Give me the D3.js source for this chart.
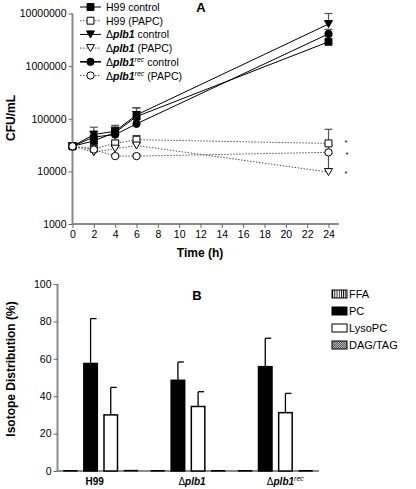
<!DOCTYPE html>
<html><head><meta charset="utf-8">
<script src="https://cdn.jsdelivr.net/npm/d3@7"></script>
<style>
body{margin:0;background:#fff;}
text{font-family:"Liberation Sans",Arial,Helvetica,sans-serif;}
</style></head>
<body><svg id="c" width="416" height="489"></svg>
<script>
// ---- Panel A data ----
const times = [0, 2, 4, 6, 24];
const h99Control   = [30000, 38000, 55000, 110000, 2900000];
const h99ControlErr= [0, 8000, 20000, 50000, 900000];
const h99Papc      = [30000, 27000, 34000, 40000, 34000];
const h99PapcErr   = [0, 3000, 5000, 8000, 29000];
const plb1Control  = [30000, 50000, 58000, 118000, 6300000];
const plb1ControlErr=[0, 19000, 12000, 45000, 3700000];
const plb1Papc     = [30000, 23000, 27000, 31000, 9700];
const plb1PapcErr  = [0, 2000, 3000, 4000, 12000];
const recControl   = [30000, 45000, 50000, 80000, 4100000];
const recControlErr= [0, 6000, 8000, 20000, 900000];
const recPapc      = [30000, 26000, 19500, 19500, 23000];
const recPapcErr   = [0, 2000, 1500, 1500, 9000];
const yTicksA = [1000, 10000, 100000, 1000000, 10000000];
const xTicksA = [0,2,4,6,8,10,12,14,16,18,20,22,24];

// ---- Panel B data ----
const groupsB = ["H99", "plb1", "plb1rec"];
const lipidClasses = ["FFA", "PC", "LysoPC", "DAG/TAG"];
const ffaVals = [0.3, 0.3, 0.3];
const pcVals = [57.5, 48.5, 55.8];
const pcErr = [24, 9.8, 15.2];
const lysoVals = [30, 34.5, 31.2];
const lysoErr = [14.7, 7.9, 10.3];
const dagVals = [0.4, 0.3, 0.3];
const yTicksB = [0, 20, 40, 60, 80, 100];

const svg = d3.select("#c");
const defs = svg.append("defs");
const pf = defs.append("pattern").attr("id","ffa").attr("patternUnits","userSpaceOnUse").attr("width",2.2).attr("height",4);
pf.append("rect").attr("width",2.2).attr("height",4).attr("fill","#fff");
pf.append("rect").attr("width",0.9).attr("height",4).attr("fill","#000");
const pd = defs.append("pattern").attr("id","dag").attr("patternUnits","userSpaceOnUse").attr("width",2).attr("height",2);
pd.append("rect").attr("width",2).attr("height",2).attr("fill","#555");
pd.append("rect").attr("width",1).attr("height",1).attr("fill","#bbb");
pd.append("rect").attr("x",1).attr("y",1).attr("width",1).attr("height",1).attr("fill","#bbb");

const axisCol = "#8a8a8a";

// ===== Panel A =====
const xA = d3.scaleLinear().domain([0,24]).range([72.5,328.5]);
const yA = d3.scaleLog().domain([1000,10000000]).range([224,13.5]);

const gA = svg.append("g");
const yAx = gA.append("g").attr("transform","translate(72.5,0)")
  .call(d3.axisLeft(yA).tickValues(yTicksA).tickFormat(d3.format("d")).tickSize(4).tickPadding(2));
const xAx = gA.append("g").attr("transform","translate(0,224)")
  .call(d3.axisBottom(xA).tickValues(xTicksA).tickSize(4).tickPadding(3));
[yAx,xAx].forEach(a=>{
  a.select(".domain").attr("stroke",axisCol).attr("stroke-width",2);
  a.selectAll(".tick line").attr("stroke","#666");
  a.selectAll(".tick text").attr("font-size",10.5).attr("fill","#000");
});
yAx.select(".domain").attr("d","M0,224V13.5");
xAx.select(".domain").attr("d","M72.5,0H339");

gA.append("text").attr("transform","translate(15,118) rotate(-90)").attr("text-anchor","middle")
  .attr("font-size",12).attr("font-weight","bold").text("CFU/mL");
gA.append("text").attr("x",200).attr("y",257).attr("text-anchor","middle")
  .attr("font-size",12).attr("font-weight","bold").text("Time (h)");
gA.append("text").attr("x",201).attr("y",12).attr("text-anchor","middle")
  .attr("font-size",13).attr("font-weight","bold").text("A");

const seriesA = [
  {name:["H99 control"], vals:h99Control, err:h99ControlErr, shape:d3.symbolSquare, fill:"#000", dash:null},
  {name:["H99 (PAPC)"], vals:h99Papc, err:h99PapcErr, shape:d3.symbolSquare, fill:"#fff", dash:"1.5,1.5"},
  {name:["Δ","plb1"," control"], vals:plb1Control, err:plb1ControlErr, shape:"tri", fill:"#000", dash:null},
  {name:["Δ","plb1"," (PAPC)"], vals:plb1Papc, err:plb1PapcErr, shape:"tri", fill:"#fff", dash:"1.5,1.5"},
  {name:["Δ","plb1","rec","  control"], vals:recControl, err:recControlErr, shape:d3.symbolCircle, fill:"#000", dash:null},
  {name:["Δ","plb1","rec"," (PAPC)"], vals:recPapc, err:recPapcErr, shape:d3.symbolCircle, fill:"#fff", dash:"1.5,1.5"}
];
function marker(g, s, x, y){
  if(s.shape==="tri"){
    g.append("path").attr("d","M-4,-3.5L4,-3.5L0,3.5Z").attr("transform",`translate(${x},${y})`)
      .attr("fill",s.fill).attr("stroke","#000").attr("stroke-width",1);
  } else {
    const size = s.shape===d3.symbolSquare ? 48 : 42;
    g.append("path").attr("d",d3.symbol().type(s.shape).size(size)()).attr("transform",`translate(${x},${y})`)
      .attr("fill",s.fill).attr("stroke","#000").attr("stroke-width",1);
  }
}
const line = d3.line().x((d,i)=>xA(times[i])).y(d=>yA(d));
seriesA.forEach(s=>{
  gA.append("path").attr("d",line(s.vals)).attr("fill","none")
    .attr("stroke", s.dash ? "#555" : "#000").attr("stroke-width",1)
    .attr("stroke-dasharray", s.dash);
});
// error bars (upper)
seriesA.forEach(s=>{
  s.vals.forEach((v,i)=>{
    if(!s.err[i]) return;
    const x = xA(times[i]);
    const hi = yA(v+s.err[i]);
    const eb = gA.append("g").attr("stroke","#555").attr("stroke-width",1.2);
    eb.append("line").attr("x1",x).attr("x2",x).attr("y1",hi).attr("y2",yA(v));
    eb.append("line").attr("x1",x-4).attr("x2",x+4).attr("y1",hi).attr("y2",hi);
  });
});
seriesA.forEach(s=>{
  s.vals.forEach((v,i)=> marker(gA, s, xA(times[i]), yA(v)));
});
// significance stars
[h99Papc, recPapc, plb1Papc].forEach((arr,i)=>{
  gA.append("text").attr("x",346 + (i===1?1:0)).attr("y",yA(arr[4])+ (i===0?2:i===1?5:4)).attr("text-anchor","middle")
    .attr("font-size",7.5).attr("fill","#000").text("*");
});
// legend A
seriesA.forEach((s,i)=>{
  const y = 7 + i*13.7;
  gA.append("line").attr("x1",80).attr("x2",101).attr("y1",y).attr("y2",y)
    .attr("stroke", s.dash ? "#555" : "#000").attr("stroke-width", i===4?1.6:1).attr("stroke-dasharray", s.dash);
  marker(gA, s, 90.5, y);
  const t = gA.append("text").attr("x",106).attr("y",y+4).attr("font-size",10.5);
  if(s.name.length===1){ t.text(s.name[0]); }
  else {
    t.append("tspan").text(s.name[0]);
    t.append("tspan").attr("font-style","italic").attr("font-weight","bold").text(s.name[1]);
    if(s.name.length===4){
      t.append("tspan").attr("font-size",7).attr("font-style","italic").attr("dy",-4).text(s.name[2]);
      t.append("tspan").attr("dy",4).text(s.name[3]);
    } else t.append("tspan").text(s.name[2]);
  }
});

// ===== Panel B =====
const yB = d3.scaleLinear().domain([0,100]).range([471,284]);
const xB = d3.scaleBand().domain(groupsB).range([57,319]).padding(0);
const xInner = d3.scaleBand().domain(lipidClasses).range([0,74]).paddingInner(0.33);
const gB = svg.append("g");
const yBx = gB.append("g").attr("transform","translate(57.5,0)")
  .call(d3.axisLeft(yB).tickValues(yTicksB).tickSize(4).tickPadding(2));
yBx.select(".domain").attr("stroke",axisCol).attr("stroke-width",2).attr("d","M0,471V284");
yBx.selectAll(".tick line").attr("stroke","#666");
yBx.selectAll(".tick text").attr("font-size",10.5).attr("fill","#000");
gB.append("line").attr("x1",57).attr("x2",319).attr("y1",471).attr("y2",471).attr("stroke",axisCol).attr("stroke-width",2);

gB.append("text").attr("transform","translate(15,369) rotate(-90)").attr("text-anchor","middle")
  .attr("font-size",12).attr("font-weight","bold").text("Isotope Distribution (%)");
gB.append("text").attr("x",197).attr("y",300).attr("text-anchor","middle")
  .attr("font-size",13).attr("font-weight","bold").text("B");

const valsByClass = {"FFA":ffaVals, "PC":pcVals, "LysoPC":lysoVals, "DAG/TAG":dagVals};
const errByClass = {"PC":pcErr, "LysoPC":lysoErr};
const fillByClass = {"FFA":"url(#ffa)", "PC":"#000", "LysoPC":"#fff", "DAG/TAG":"url(#dag)"};

groupsB.forEach((g,gi)=>{
  const gx = xB(g) + (xB.bandwidth()-74)/2;
  lipidClasses.forEach(c=>{
    const v = valsByClass[c][gi];
    const x = gx + xInner(c);
    const w = xInner.bandwidth();
    if(errByClass[c]){
      const top = yB(v + errByClass[c][gi]);
      gB.append("line").attr("x1",x+w/2).attr("x2",x+w/2).attr("y1",top).attr("y2",yB(v)).attr("stroke","#000").attr("stroke-width",1.3);
      gB.append("line").attr("x1",x+w/2).attr("x2",x+w/2+6).attr("y1",top).attr("y2",top).attr("stroke","#000").attr("stroke-width",1.3);
    }
    gB.append("rect").attr("x",x).attr("y",yB(v)).attr("width",w).attr("height",Math.max(yB(0)-yB(v),0.8))
      .attr("fill",fillByClass[c]).attr("stroke","#000").attr("stroke-width",c==="FFA"||c==="DAG/TAG"?0.8:1.5);
  });
  const cx = xB(g) + xB.bandwidth()/2;
  const t = gB.append("text").attr("x",cx + (gi===0?-6:gi===1?4:10)).attr("y",485).attr("text-anchor","middle").attr("font-size",10).attr("font-weight","bold");
  if(g==="H99") t.text("H99");
  else {
    t.append("tspan").attr("font-weight","normal").text("Δ");
    t.append("tspan").attr("font-style","italic").text("plb1");
    if(g==="plb1rec") t.append("tspan").attr("font-size",7).attr("font-style","italic").attr("font-weight","normal").attr("dy",-4).text("rec");
  }
});
// legend B
lipidClasses.forEach((c,i)=>{
  const y = 294 + i*17;
  gB.append("rect").attr("x",332).attr("y",y-4).attr("width",15).attr("height",8)
    .attr("fill",fillByClass[c]).attr("stroke","#000").attr("stroke-width",1);
  gB.append("text").attr("x",349).attr("y",y+4).attr("font-size",11).text(c);
});
</script></body></html>
